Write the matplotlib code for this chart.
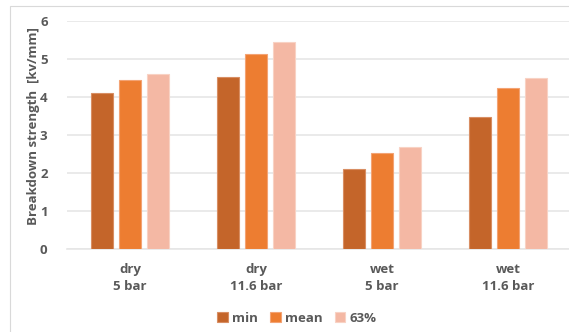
import matplotlib
matplotlib.use("Agg")
import matplotlib.pyplot as plt
import numpy as np
from matplotlib.patches import Rectangle

categories = ["dry\n5 bar", "dry\n11.6 bar", "wet\n5 bar", "wet\n11.6 bar"]
series_names = ["min", "mean", "63%"]
min_vals = [4.10, 4.52, 2.10, 3.48]
mean_vals = [4.44, 5.13, 2.52, 4.24]
p63_vals = [4.60, 5.44, 2.68, 4.50]
colors = ["#C4652A", "#ED7D31", "#F4B8A4"]
edges = ["#D88E63", "#F3A374", "#F8D2C4"]
yticks = [0, 1, 2, 3, 4, 5, 6]

plt.rcParams["font.family"] = ["Open Sans", "DejaVu Sans"]
text_color = "#595959"
fs = 9.5

W, H = 569, 332
fig = plt.figure(figsize=(W / 100, H / 100), dpi=100)

# outer chart frame
fig.patches.append(Rectangle((10 / W, -0.1), 1.2, 1 - 6 / H + 0.1,
                             transform=fig.transFigure, fill=False,
                             edgecolor="#D9D9D9", linewidth=0.8))

ax = fig.add_axes([67 / W, 1 - 249 / H, (571 - 67) / W, (249 - 21) / H])
x = np.arange(len(categories))
bw = 0.175
step = 0.222
for i, (vals, c, e, name) in enumerate(zip([min_vals, mean_vals, p63_vals], colors, edges, series_names)):
    ax.bar(x + (i - 1) * step, vals, width=bw, color=c, edgecolor=e,
           linewidth=0.8, label=name, zorder=3)

ax.set_xlim(-0.5, len(categories) - 0.5)
ax.set_ylim(0, 6)
ax.set_yticks(yticks)
ax.set_yticklabels([str(t) for t in yticks], fontsize=fs, fontweight="bold", color=text_color)
ax.set_xticks(x)
ax.set_xticklabels(categories, fontsize=fs, fontweight="bold", color=text_color, linespacing=1.45)
ax.tick_params(axis="both", length=0)
ax.tick_params(axis="y", pad=14)
ax.tick_params(axis="x", pad=10)
ax.grid(axis="y", color="#E6E6E6", linewidth=1.2, zorder=0)
for s in ["top", "right", "left"]:
    ax.spines[s].set_visible(False)
ax.spines["bottom"].set_color("#E6E6E6")
ax.spines["bottom"].set_linewidth(1.2)

fig.text(34 / W, 1 - 126 / H, "Breakdown strength  [kv/mm]", rotation=90,
         ha="center", va="center", fontsize=fs, fontweight="bold", color=text_color)

leg = fig.legend(loc="center", bbox_to_anchor=(297 / W, 1 - 318 / H), ncol=3,
                 frameon=False, fontsize=fs, handlelength=0.8, handleheight=0.8,
                 handletextpad=0.35, columnspacing=0.9)
for t in leg.get_texts():
    t.set_color(text_color)
    t.set_fontweight("bold")

fig.savefig("out.png", dpi=100)
